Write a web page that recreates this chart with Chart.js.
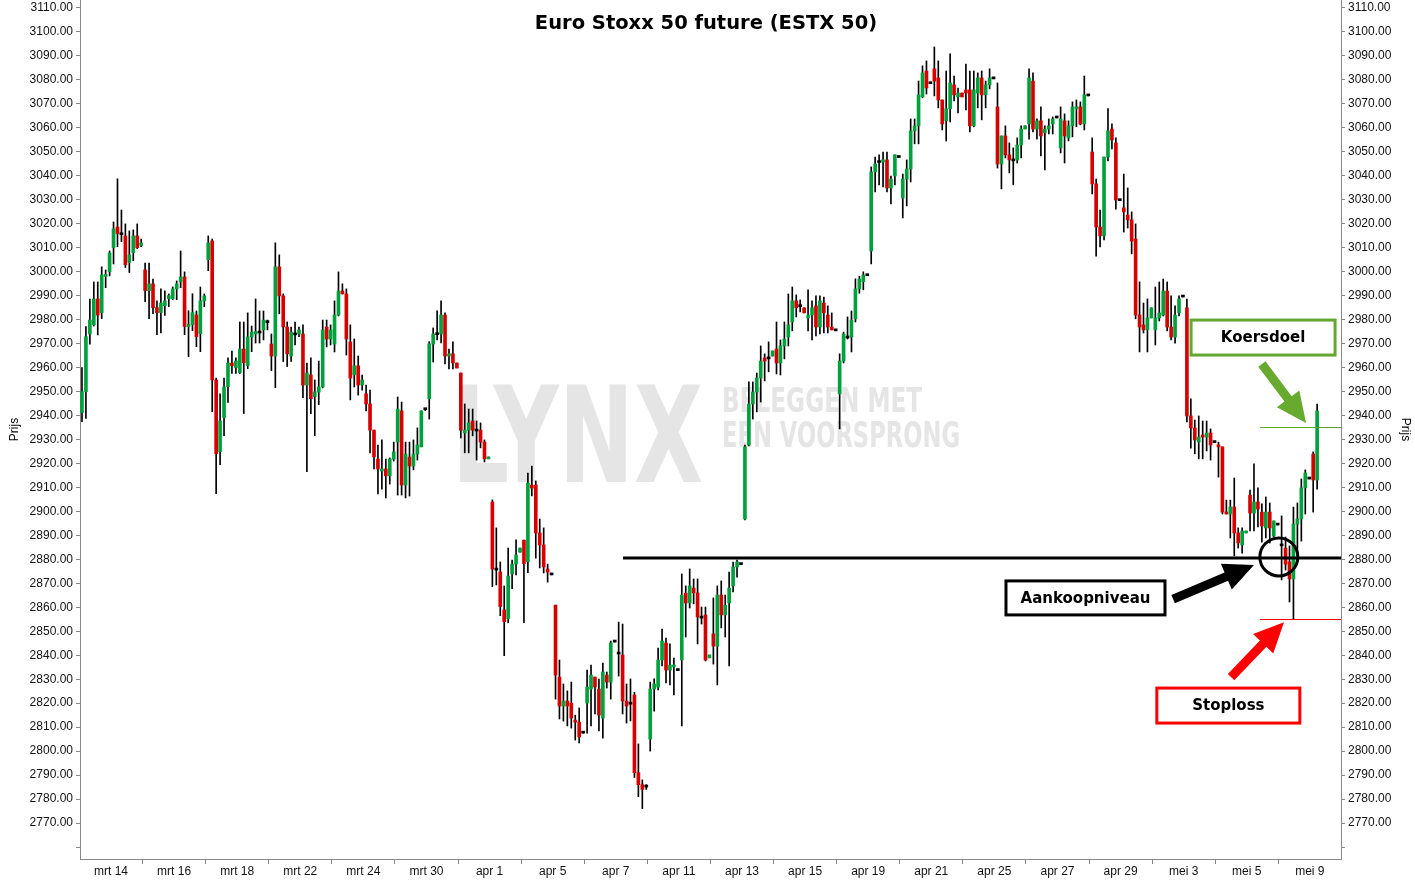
<!DOCTYPE html>
<html>
<head>
<meta charset="utf-8">
<title>Euro Stoxx 50 future (ESTX 50)</title>
<script src="https://cdn.jsdelivr.net/npm/chart.js@4.4.1/dist/chart.umd.min.js"></script>
<style>
    html, body { margin: 0; padding: 0; background: #fff; }
    #wrap { width: 1415px; height: 881px; }
</style>
</head>
<body>
<div id="wrap"><canvas id="chart" width="1415" height="881"></canvas></div>
<script>
// Tick labels of the time axis (one every two trading days)
const dateLabels = ['mrt 14', 'mrt 16', 'mrt 18', 'mrt 22', 'mrt 24', 'mrt 30', 'apr 1', 'apr 5', 'apr 7', 'apr 11',
    'apr 13', 'apr 15', 'apr 19', 'apr 21', 'apr 25', 'apr 27', 'apr 29', 'mei 3', 'mei 5', 'mei 9'];

// Koersen per candle
const opens = [
    2941.2, 2949.9, 2974.0, 2977.8, 2988.6, 2982.9, 2998.0, 3000.0, 3010.0, 3018.6,
    3015.4, 3014.9, 3003.8, 3007.9, 3014.9, 3010.9, 3000.7, 2992.1, 2994.9, 2985.0,
    2982.9, 2985.8, 2988.7, 2988.7, 2992.8, 2995.7, 2997.8, 2977.1, 2977.9, 2981.9,
    2974.1, 2987.8, 3005.0, 3012.8, 2954.8, 2924.9, 2939.1, 2952.0, 2961.9, 2960.0,
    2957.9, 2967.7, 2960.8, 2972.8, 2974.0, 2974.4, 2975.7, 2978.7, 2969.8, 2964.8,
    3002.0, 2989.9, 2976.9, 2964.8, 2973.6, 2974.0, 2974.0, 2952.7, 2956.9, 2947.9,
    2949.8, 2951.9, 2976.9, 2971.9, 2969.8, 2981.9, 2991.9, 2990.7, 2970.7, 2956.9,
    2960.7, 2952.7, 2949.0, 2944.8, 2933.9, 2921.8, 2916.8, 2917.7, 2914.8, 2921.8,
    2928.9, 2941.9, 2911.0, 2922.7, 2918.9, 2923.9, 2926.9, 2942.4, 2946.9, 2969.8,
    2973.7, 2974.0, 2981.9, 2964.8, 2965.7, 2961.9, 2957.7, 2932.7, 2933.9, 2937.7,
    2933.5, 2933.9, 2928.9, 2921.9, 2903.9, 2875.5, 2874.7, 2858.9, 2855.2, 2873.9,
    2878.0, 2883.0, 2888.0, 2879.0, 2911.0, 2911.0, 2891.0, 2886.0, 2876.0, 2873.5,
    2860.9, 2830.9, 2818.8, 2820.9, 2820.0, 2812.9, 2812.1, 2807.5, 2820.0, 2825.9,
    2830.9, 2825.9, 2813.8, 2831.7, 2828.8, 2845.5, 2840.5, 2840.1, 2820.9, 2819.6,
    2823.4, 2791.0, 2786.0, 2785.0, 2805.0, 2825.9, 2826.7, 2838.0, 2845.1, 2833.8,
    2835.1, 2833.6, 2838.0, 2865.9, 2861.8, 2868.0, 2866.0, 2855.5, 2856.8, 2838.9,
    2848.9, 2843.8, 2865.1, 2856.8, 2861.8, 2868.9, 2876.8, 2877.8, 2896.8, 2927.7,
    2944.8, 2949.8, 2955.6, 2964.0, 2963.6, 2964.8, 2967.7, 2961.9, 2969.0, 2972.7,
    2979.0, 2987.8, 2985.4, 2984.9, 2980.7, 2981.9, 2985.7, 2976.9, 2986.9, 2981.9,
    2976.9, 2975.3, 2949.0, 2962.7, 2972.3, 2972.7, 2980.3, 2992.8, 2995.8, 2998.3,
    3008.6, 3041.6, 3045.5, 3045.7, 3046.6, 3034.9, 3039.9, 3047.6, 3030.7, 3038.6,
    3042.8, 3058.7, 3060.8, 3072.9, 3083.7, 3078.4, 3084.6, 3080.8, 3071.6, 3062.9,
    3067.9, 3077.9, 3072.9, 3074.5, 3075.8, 3075.8, 3060.8, 3074.5, 3080.8, 3073.7,
    3077.9, 3080.4, 3068.7, 3044.9, 3056.6, 3048.7, 3046.2, 3046.6, 3052.8, 3059.5,
    3061.6, 3079.5, 3059.5, 3062.9, 3057.9, 3059.5, 3061.6, 3064.1, 3051.6, 3062.9,
    3055.8, 3060.8, 3067.9, 3068.7, 3061.6, 3073.3, 3049.9, 3036.6, 3018.6, 3014.9,
    3047.8, 3059.5, 3053.7, 3029.6, 3026.6, 3023.6, 3021.6, 3013.6, 2981.9, 2977.8,
    2975.7, 2980.7, 2975.7, 2980.7, 2981.9, 2991.9, 2976.9, 2972.7, 2982.8, 2989.4,
    2984.9, 2939.8, 2934.8, 2928.9, 2931.9, 2931.0, 2932.7, 2928.7, 2927.7, 2926.9,
    2899.7, 2898.9, 2901.8, 2891.0, 2886.0, 2891.0, 2906.8, 2899.3, 2903.9, 2899.7,
    2893.1, 2899.7, 2889.7, 2894.3, 2885.6, 2884.7, 2878.9, 2871.8, 2894.7, 2896.8,
    2909.8, 2913.5, 2923.9, 2913.1
];
const highs = [
    2960.0, 2977.1, 2988.6, 2995.7, 2995.7, 3002.0, 3000.7, 3008.6, 3020.7, 3038.7,
    3025.7, 3019.9, 3017.0, 3017.4, 3019.9, 3013.6, 3003.6, 3003.6, 2996.9, 2987.8,
    2992.8, 2992.0, 2990.7, 2993.6, 2996.1, 3008.6, 2999.9, 2983.7, 2990.8, 2983.6,
    2993.6, 2990.7, 3014.9, 3013.6, 2955.6, 2949.0, 2955.6, 2964.0, 2966.9, 2964.0,
    2979.0, 2979.0, 2982.8, 2977.3, 2988.6, 2983.6, 2983.6, 2979.8, 2974.0, 3012.0,
    3007.0, 2990.7, 2979.0, 2976.9, 2979.0, 2976.9, 2977.8, 2961.9, 2964.0, 2954.8,
    2962.7, 2979.8, 2979.8, 2977.8, 2987.8, 2999.9, 2994.9, 2992.8, 2977.8, 2971.9,
    2964.8, 2956.9, 2952.7, 2950.6, 2933.9, 2927.7, 2929.8, 2921.8, 2922.3, 2928.9,
    2947.7, 2945.6, 2928.9, 2928.9, 2929.8, 2934.8, 2941.9, 2942.9, 2970.8, 2976.5,
    2983.6, 2987.8, 2982.8, 2967.7, 2970.7, 2961.9, 2957.7, 2944.8, 2942.7, 2942.7,
    2937.7, 2936.9, 2929.8, 2922.7, 2904.8, 2893.1, 2878.9, 2868.9, 2884.7, 2879.7,
    2888.1, 2884.7, 2888.0, 2916.0, 2918.9, 2912.7, 2896.8, 2893.1, 2878.0, 2873.5,
    2860.9, 2838.0, 2828.0, 2825.1, 2828.8, 2815.0, 2818.0, 2807.5, 2833.8, 2835.9,
    2830.9, 2830.0, 2836.7, 2833.0, 2845.9, 2845.5, 2853.8, 2853.0, 2828.0, 2830.1,
    2824.5, 2803.0, 2788.0, 2786.0, 2828.8, 2830.1, 2843.0, 2850.9, 2847.2, 2844.7,
    2838.8, 2833.6, 2873.9, 2868.9, 2876.0, 2871.8, 2871.8, 2860.1, 2860.1, 2840.1,
    2863.9, 2868.9, 2871.0, 2865.1, 2874.7, 2878.9, 2879.7, 2877.8, 2927.7, 2954.0,
    2954.0, 2957.7, 2969.0, 2965.7, 2970.7, 2966.9, 2979.0, 2971.5, 2979.0, 2990.7,
    2993.6, 2990.3, 2988.2, 2984.9, 2992.4, 2987.8, 2989.9, 2989.9, 2989.4, 2985.7,
    2982.8, 2975.3, 2965.7, 2974.8, 2981.1, 2983.6, 2997.0, 2998.0, 2999.9, 2998.3,
    3043.7, 3047.8, 3048.7, 3049.9, 3049.9, 3039.9, 3048.7, 3047.6, 3040.7, 3046.6,
    3063.7, 3063.7, 3079.5, 3085.8, 3087.9, 3078.4, 3093.7, 3087.9, 3071.6, 3083.7,
    3090.8, 3081.6, 3076.6, 3074.5, 3086.6, 3083.7, 3083.7, 3082.9, 3083.7, 3079.5,
    3084.6, 3080.4, 3078.7, 3056.6, 3060.8, 3053.7, 3051.6, 3055.8, 3060.8, 3060.8,
    3084.6, 3082.9, 3063.7, 3068.7, 3060.8, 3063.7, 3064.5, 3064.1, 3068.7, 3065.8,
    3062.9, 3070.8, 3071.6, 3070.8, 3081.6, 3073.3, 3055.8, 3038.6, 3025.7, 3047.8,
    3068.0, 3061.6, 3055.8, 3029.6, 3040.7, 3034.9, 3024.9, 3019.9, 2995.7, 2986.9,
    2988.6, 2984.9, 2993.6, 2995.7, 2996.9, 2995.7, 2989.9, 2985.7, 2989.9, 2989.4,
    2988.6, 2946.9, 2938.1, 2939.8, 2937.7, 2937.7, 2934.4, 2928.7, 2928.9, 2926.9,
    2904.7, 2904.7, 2913.9, 2893.1, 2893.1, 2891.8, 2908.9, 2919.8, 2909.8, 2903.1,
    2906.0, 2903.5, 2896.0, 2894.3, 2898.1, 2889.3, 2885.6, 2901.8, 2903.5, 2913.5,
    2917.3, 2913.5, 2924.8, 2944.8
];
const lows = [
    2937.4, 2938.8, 2969.7, 2977.3, 2973.6, 2980.4, 2993.3, 2998.2, 3003.2, 3010.4,
    3012.5, 3001.7, 2999.6, 3004.6, 3009.6, 3010.4, 2987.5, 2980.4, 2982.5, 2973.7,
    2974.4, 2981.7, 2985.4, 2988.3, 2988.3, 2993.3, 2973.7, 2964.5, 2975.4, 2968.7,
    2966.6, 2985.4, 3000.4, 2941.6, 2907.4, 2919.5, 2931.6, 2945.4, 2957.5, 2957.5,
    2957.5, 2940.8, 2959.5, 2966.6, 2970.2, 2970.2, 2971.5, 2975.7, 2958.7, 2951.6,
    2982.4, 2962.5, 2960.4, 2962.5, 2969.4, 2972.9, 2947.4, 2916.6, 2940.8, 2931.6,
    2944.5, 2951.5, 2968.6, 2969.4, 2966.5, 2981.5, 2990.7, 2965.2, 2946.5, 2951.9,
    2948.5, 2950.6, 2941.9, 2924.4, 2917.7, 2907.3, 2909.3, 2905.6, 2911.4, 2921.0,
    2906.8, 2906.8, 2905.6, 2906.4, 2917.3, 2921.4, 2926.9, 2942.0, 2938.5, 2962.3,
    2971.5, 2970.3, 2961.5, 2959.4, 2959.4, 2959.8, 2930.6, 2924.4, 2924.4, 2931.5,
    2921.4, 2926.5, 2920.6, 2921.9, 2868.6, 2869.3, 2856.5, 2839.8, 2853.6, 2867.8,
    2873.5, 2883.0, 2853.6, 2874.4, 2906.4, 2880.5, 2876.4, 2874.3, 2870.5, 2873.5,
    2821.7, 2813.4, 2812.5, 2810.5, 2809.6, 2804.6, 2803.4, 2807.5, 2807.5, 2810.5,
    2815.5, 2808.4, 2805.4, 2826.3, 2821.7, 2845.5, 2831.3, 2815.5, 2811.7, 2812.6,
    2789.0, 2781.0, 2776.0, 2784.0, 2800.0, 2816.7, 2825.5, 2835.5, 2828.4, 2827.6,
    2823.4, 2833.6, 2810.5, 2847.6, 2859.7, 2861.4, 2844.7, 2853.0, 2837.6, 2838.9,
    2836.3, 2827.6, 2851.4, 2847.6, 2835.5, 2866.4, 2872.6, 2877.8, 2896.4, 2927.3,
    2938.5, 2941.5, 2945.6, 2954.4, 2958.2, 2964.8, 2957.3, 2956.9, 2963.6, 2969.0,
    2975.3, 2981.1, 2983.2, 2982.8, 2975.3, 2971.5, 2973.2, 2974.0, 2974.4, 2974.4,
    2975.7, 2975.3, 2934.4, 2961.9, 2971.9, 2966.5, 2979.0, 2991.0, 2992.4, 2998.3,
    3003.2, 3033.2, 3036.2, 3035.3, 3033.2, 3028.2, 3036.2, 3047.6, 3022.4, 3027.4,
    3037.4, 3053.3, 3053.3, 3072.5, 3074.1, 3078.4, 3073.3, 3068.3, 3059.1, 3054.5,
    3062.4, 3071.2, 3066.2, 3072.9, 3067.4, 3058.3, 3060.4, 3068.3, 3063.3, 3068.3,
    3076.2, 3080.4, 3043.2, 3034.5, 3047.4, 3041.2, 3036.2, 3045.3, 3047.4, 3059.5,
    3055.3, 3058.3, 3055.3, 3048.3, 3042.4, 3057.4, 3057.4, 3064.1, 3049.5, 3045.3,
    3054.5, 3056.2, 3060.4, 3061.2, 3059.1, 3073.3, 3032.4, 3006.5, 3010.3, 3013.2,
    3046.2, 3051.2, 3026.1, 3029.6, 3016.5, 3018.2, 3007.4, 2980.3, 2966.5, 2974.4,
    2966.5, 2980.7, 2969.4, 2979.4, 2981.5, 2975.3, 2971.5, 2970.2, 2981.5, 2989.4,
    2937.3, 2926.4, 2924.0, 2921.9, 2921.9, 2925.2, 2921.4, 2928.7, 2914.3, 2898.9,
    2898.9, 2888.9, 2881.4, 2884.7, 2882.6, 2891.0, 2891.8, 2891.8, 2893.5, 2887.2,
    2888.9, 2886.8, 2889.3, 2894.3, 2871.4, 2875.5, 2862.2, 2855.1, 2882.2, 2887.6,
    2898.9, 2913.5, 2899.7, 2909.3
];
const closes = [
    2949.9, 2972.9, 2979.8, 2988.6, 2981.9, 2998.6, 2998.6, 3007.8, 3017.8, 3015.9,
    3015.4, 3002.9, 3007.0, 3014.9, 3010.0, 3012.0, 2992.1, 2994.9, 2985.0, 2982.9,
    2986.9, 2987.8, 2990.0, 2992.8, 2994.9, 2997.8, 2977.1, 2977.9, 2982.9, 2972.9,
    2987.8, 2989.9, 3012.0, 2954.8, 2924.1, 2937.7, 2951.9, 2961.9, 2960.8, 2962.7,
    2967.7, 2962.0, 2972.8, 2974.8, 2975.0, 2974.4, 2979.8, 2978.7, 2964.8, 3002.0,
    2989.9, 2976.9, 2965.7, 2974.8, 2973.6, 2975.7, 2952.7, 2957.7, 2947.0, 2949.8,
    2951.9, 2975.7, 2971.9, 2975.7, 2981.9, 2991.9, 2990.7, 2971.9, 2955.6, 2960.7,
    2952.7, 2954.8, 2944.8, 2933.9, 2922.7, 2917.7, 2917.7, 2914.8, 2921.8, 2924.8,
    2942.7, 2911.0, 2923.9, 2918.9, 2923.9, 2927.7, 2941.9, 2942.4, 2969.8, 2974.0,
    2973.7, 2981.9, 2964.8, 2965.7, 2961.9, 2959.8, 2933.9, 2933.9, 2936.9, 2933.9,
    2933.5, 2928.9, 2921.9, 2922.7, 2875.9, 2875.5, 2860.3, 2854.0, 2873.0, 2878.0,
    2881.8, 2884.7, 2878.2, 2911.8, 2909.7, 2891.0, 2886.0, 2876.8, 2874.7, 2873.5,
    2831.7, 2818.8, 2820.9, 2818.8, 2813.8, 2812.1, 2805.9, 2807.5, 2826.7, 2831.7,
    2826.7, 2815.0, 2833.0, 2828.8, 2845.1, 2845.5, 2840.5, 2820.9, 2818.8, 2819.6,
    2791.0, 2786.0, 2784.0, 2785.0, 2825.9, 2828.0, 2838.0, 2845.9, 2833.8, 2835.9,
    2835.9, 2833.6, 2865.1, 2861.8, 2868.9, 2866.0, 2855.9, 2855.5, 2838.0, 2840.1,
    2843.8, 2865.1, 2856.8, 2860.9, 2868.0, 2876.8, 2878.9, 2877.8, 2926.9, 2944.8,
    2949.8, 2955.6, 2962.7, 2962.7, 2963.6, 2966.9, 2961.9, 2969.0, 2971.9, 2977.8,
    2987.8, 2984.9, 2985.4, 2982.8, 2981.9, 2984.9, 2976.9, 2987.8, 2982.8, 2976.9,
    2975.7, 2975.3, 2962.7, 2974.0, 2972.3, 2979.8, 2992.8, 2996.9, 2998.6, 2998.3,
    3041.6, 3044.9, 3045.5, 3046.6, 3034.9, 3038.6, 3048.7, 3047.6, 3038.6, 3042.8,
    3058.7, 3060.8, 3073.7, 3082.9, 3076.6, 3078.4, 3079.5, 3071.6, 3061.6, 3067.9,
    3078.7, 3073.7, 3074.5, 3072.9, 3074.5, 3060.8, 3075.8, 3080.8, 3073.7, 3077.9,
    3080.8, 3080.4, 3044.9, 3056.6, 3048.7, 3046.6, 3046.2, 3052.8, 3059.5, 3060.8,
    3080.8, 3059.5, 3062.9, 3056.6, 3059.5, 3060.8, 3063.7, 3064.1, 3063.7, 3056.6,
    3060.8, 3068.7, 3068.7, 3061.6, 3073.7, 3073.3, 3036.6, 3018.6, 3014.9, 3047.8,
    3058.7, 3054.9, 3029.9, 3029.6, 3024.9, 3021.6, 3012.8, 2981.9, 2976.9, 2975.7,
    2980.7, 2984.9, 2980.7, 2982.8, 2991.9, 2976.9, 2972.7, 2981.9, 2988.6, 2989.4,
    2939.8, 2934.8, 2929.8, 2931.0, 2931.0, 2932.7, 2927.7, 2928.7, 2926.9, 2899.7,
    2898.9, 2901.8, 2891.0, 2886.8, 2891.8, 2891.8, 2899.3, 2903.9, 2901.0, 2893.9,
    2899.7, 2893.1, 2896.0, 2894.3, 2885.6, 2878.0, 2871.8, 2894.7, 2896.8, 2909.8,
    2916.0, 2913.5, 2913.1, 2941.9
];

// Niveaus van de trade
const koersdoel = 2935;
const aankoopniveau = 2880.5;
const stoploss = 2855;

const GREEN = '#00a13c';
const RED = '#d70000';

// Annotaties, in as-coordinaten (candle index, koers)
const notes = {
    entryLineFrom: 137.1,
    levelLinesFrom: 298.5,
    circle: { x: 303.3, y: 2881, r: 19 },
    boxes: [
        { text: 'Koersdoel', x: 299.3, y: 2972.5, w: 144, h: 35, color: '#62a730' },
        { text: 'Aankoopniveau', x: 254.3, y: 2863.9, w: 159, h: 34, color: '#000000' },
        { text: 'Stoploss', x: 290.5, y: 2819.0, w: 143, h: 35, color: '#ff0000' }
    ],
    arrows: [
        { x1: 299.0, y1: 2961.5, x2: 310.2, y2: 2936.9, color: '#66aa2e' },
        { x1: 276.5, y1: 2863.4, x2: 297.0, y2: 2877.6, color: '#000000' },
        { x1: 291.2, y1: 2830.9, x2: 304.6, y2: 2853.8, color: '#ff0000' }
    ]
};

const firstTick = 7.35;   // positie van 'mrt 14'
const tickStep = 15.99;   // 16 candles per label

const idx = opens.map((_, i) => i);
const bodyColors = idx.map(i => closes[i] > opens[i] ? GREEN : (closes[i] < opens[i] ? RED : '#000000'));

// Hulpfuncties voor het tekenen
function fitText(ctx, text, x1, x2, yTop, yBottom, family) {
    const size = (yBottom - yTop) / 0.73;
    ctx.font = 'bold ' + size + 'px ' + family;
    const w = ctx.measureText(text).width;
    ctx.save();
    ctx.translate(x1, yBottom);
    ctx.scale((x2 - x1) / w, 1);
    ctx.textAlign = 'left';
    ctx.textBaseline = 'alphabetic';
    ctx.fillText(text, 0, 0);
    ctx.restore();
}

function drawArrow(ctx, x1, y1, x2, y2, color) {
    const shaft = 9, headLen = 30, headW = 28;
    const ang = Math.atan2(y2 - y1, x2 - x1);
    const len = Math.hypot(x2 - x1, y2 - y1);
    ctx.save();
    ctx.translate(x1, y1);
    ctx.rotate(ang);
    ctx.fillStyle = color;
    ctx.beginPath();
    ctx.moveTo(0, -shaft / 2);
    ctx.lineTo(len - headLen, -shaft / 2);
    ctx.lineTo(len - headLen, -headW / 2);
    ctx.lineTo(len, 0);
    ctx.lineTo(len - headLen, headW / 2);
    ctx.lineTo(len - headLen, shaft / 2);
    ctx.lineTo(0, shaft / 2);
    ctx.closePath();
    ctx.fill();
    ctx.restore();
}

const overlay = {
    id: 'overlay',
    beforeDatasetsDraw(chart) {
        // Watermerk achter de candles
        const ctx = chart.ctx, x = chart.scales.x, y = chart.scales.y;
        const fam = '"DejaVu Sans Condensed", "Liberation Sans Narrow", "DejaVu Sans", sans-serif';
        ctx.save();
        ctx.fillStyle = '#e5e5e5';
        fitText(ctx, 'LYNX', x.getPixelForValue(93.8), x.getPixelForValue(157.4),
            y.getPixelForValue(2952.7), y.getPixelForValue(2912.2), fam);
        fitText(ctx, 'BELEGGEN MET', x.getPixelForValue(162.2), x.getPixelForValue(212.9),
            y.getPixelForValue(2951.9), y.getPixelForValue(2941.5), fam);
        fitText(ctx, 'EEN VOORSPRONG', x.getPixelForValue(162.2), x.getPixelForValue(222.5),
            y.getPixelForValue(2937.7), y.getPixelForValue(2926.9), fam);
        ctx.restore();
    },
    afterDatasetsDraw(chart) {
        const ctx = chart.ctx, x = chart.scales.x, y = chart.scales.y;
        const area = chart.chartArea;
        ctx.save();

        // Horizontale niveaus
        ctx.strokeStyle = '#000';
        ctx.lineWidth = 3;
        ctx.beginPath();
        ctx.moveTo(x.getPixelForValue(notes.entryLineFrom), y.getPixelForValue(aankoopniveau));
        ctx.lineTo(area.right, y.getPixelForValue(aankoopniveau));
        ctx.stroke();

        ctx.lineWidth = 1;
        ctx.strokeStyle = '#5fa52c';
        ctx.beginPath();
        ctx.moveTo(x.getPixelForValue(notes.levelLinesFrom), Math.round(y.getPixelForValue(koersdoel)) + 0.5);
        ctx.lineTo(area.right, Math.round(y.getPixelForValue(koersdoel)) + 0.5);
        ctx.stroke();

        ctx.strokeStyle = '#ff0000';
        ctx.beginPath();
        ctx.moveTo(x.getPixelForValue(notes.levelLinesFrom), Math.round(y.getPixelForValue(stoploss)) + 0.5);
        ctx.lineTo(area.right, Math.round(y.getPixelForValue(stoploss)) + 0.5);
        ctx.stroke();

        // Cirkel rond het aankoopmoment
        ctx.strokeStyle = '#000';
        ctx.lineWidth = 3;
        ctx.beginPath();
        ctx.arc(x.getPixelForValue(notes.circle.x), y.getPixelForValue(notes.circle.y), notes.circle.r, 0, Math.PI * 2);
        ctx.stroke();

        // Pijlen
        for (const a of notes.arrows) {
            drawArrow(ctx, x.getPixelForValue(a.x1), y.getPixelForValue(a.y1),
                x.getPixelForValue(a.x2), y.getPixelForValue(a.y2), a.color);
        }

        // Tekstvakken
        ctx.font = 'bold 15px "DejaVu Sans", Verdana, sans-serif';
        ctx.textAlign = 'center';
        ctx.textBaseline = 'middle';
        for (const b of notes.boxes) {
            const cx = x.getPixelForValue(b.x), cy = y.getPixelForValue(b.y);
            ctx.fillStyle = '#fff';
            ctx.fillRect(cx - b.w / 2, cy - b.h / 2, b.w, b.h);
            ctx.strokeStyle = b.color;
            ctx.lineWidth = 3;
            ctx.strokeRect(cx - b.w / 2, cy - b.h / 2, b.w, b.h);
            ctx.fillStyle = '#000';
            ctx.fillText(b.text, cx, cy + 1);
        }
        ctx.restore();
    },
    afterDraw(chart) {
        const ctx = chart.ctx, area = chart.chartArea;
        ctx.save();
        // Titel
        ctx.fillStyle = '#000';
        ctx.font = 'bold 19.5px "DejaVu Sans", Verdana, sans-serif';
        ctx.textAlign = 'center';
        ctx.textBaseline = 'middle';
        ctx.fillText('Euro Stoxx 50 future (ESTX 50)', 706, 24);

        // As-titels 'Prijs'
        ctx.font = '12px "Liberation Sans", Arial, sans-serif';
        const midY = (area.top + area.bottom) / 2;
        ctx.save();
        ctx.translate(15, midY);
        ctx.rotate(-Math.PI / 2);
        ctx.fillText('Prijs', 0, 0);
        ctx.restore();
        ctx.save();
        ctx.translate(chart.width - 10, midY);
        ctx.rotate(Math.PI / 2);
        ctx.fillText('Prijs', 0, 0);
        ctx.restore();
        ctx.restore();
    }
};

function priceTicks(scale) {
    const t = [];
    for (let v = 2760; v <= 3110; v += 10) t.push({ value: v });
    scale.ticks = t;
}

const tickFont = { family: '"Liberation Sans", Arial, sans-serif', size: 12 };

const yAxis = (pos, width) => ({
    type: 'linear',
    position: pos,
    min: 2755,
    max: 3113.3,
    afterBuildTicks: priceTicks,
    afterFit: s => {
        s.width = width;
        // geen extra ruimte boven/onder voor de labels
        s.paddingTop = 0;
        s.paddingBottom = 0;
    },
    ticks: {
        autoSkip: false,
        padding: 3,
        color: '#111',
        font: tickFont,
        callback: v => v === 2760 ? '' : v.toFixed(2)
    },
    grid: { drawOnChartArea: false, drawTicks: true, tickLength: 4, color: '#888' },
    border: { color: '#888', width: 1 }
});

new Chart(document.getElementById('chart'), {
    type: 'bar',
    data: {
        datasets: [
            {
                label: 'body',
                data: idx.map(i => ({ x: i, y: [opens[i], closes[i]] })),
                backgroundColor: bodyColors,
                barThickness: 3,
                minBarLength: 2,
                borderWidth: 0,
                xAxisID: 'x',
                yAxisID: 'y',
                order: 0
            },
            {
                label: 'wick',
                data: idx.map(i => ({ x: i, y: [lows[i], highs[i]] })),
                backgroundColor: '#000000',
                barThickness: 1,
                borderWidth: 0,
                xAxisID: 'x',
                yAxisID: 'y',
                order: 1
            }
        ]
    },
    options: {
        responsive: false,
        animation: false,
        devicePixelRatio: 1,
        layout: { padding: 0 },
        datasets: { bar: { grouped: false } },
        plugins: {
            legend: { display: false },
            tooltip: { enabled: false },
            title: { display: false }
        },
        scales: {
            x: {
                type: 'linear',
                min: -0.5,
                max: 319.05,
                offset: false,
                afterBuildTicks: s => { s.ticks = dateLabels.map((_, k) => ({ value: firstTick + k * tickStep })); },
                afterFit: s => { s.height = 22; },
                ticks: {
                    autoSkip: false,
                    maxRotation: 0,
                    padding: 0,
                    color: '#111',
                    font: tickFont,
                    callback: (v, i) => dateLabels[i]
                },
                grid: { drawOnChartArea: false, drawTicks: true, tickLength: 5, color: '#888' },
                border: { color: '#888', width: 1 }
            },
            y: yAxis('left', 80),
            y2: yAxis('right', 74)
        }
    },
    plugins: [overlay]
});
</script>
</body>
</html>
